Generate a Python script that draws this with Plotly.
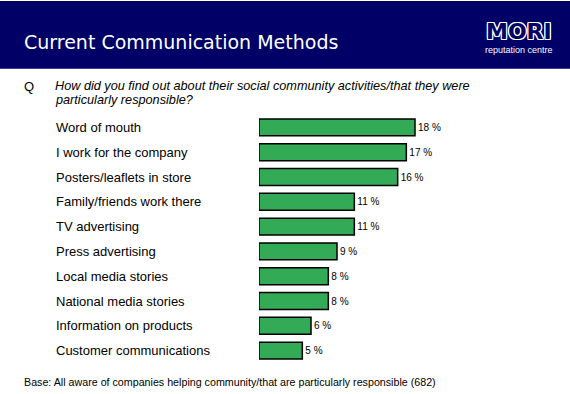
import plotly.graph_objects as go

categories = ["Word of mouth", "I work for the company", "Posters/leaflets in store",
              "Family/friends work there", "TV advertising", "Press advertising",
              "Local media stories", "National media stories", "Information on products",
              "Customer communications"]
values = [18, 17, 16, 11, 11, 9, 8, 8, 6, 5]
value_labels = [f"{v} %" for v in values]

W, H = 570, 394
X0, X1 = 259, 519
Y0, Y1 = 114.5, 363.5
XMAX = 30

def px(x):
    return (x - X0) / (X1 - X0)

def py(y):
    return (Y1 - y) / (Y1 - Y0)

FONT = "Arial, Liberation Sans"

fig = go.Figure()
fig.add_trace(go.Bar(
    x=values, y=categories, orientation="h",
    marker=dict(color="#33AA55", line=dict(color="black", width=1.5)),
    width=0.68,
    text=value_labels, textposition="outside", cliponaxis=False,
    textfont=dict(family=FONT, size=10, color="black"),
))

annotations = []
for c in categories:
    annotations.append(dict(x=px(54), xref="paper", y=c, yref="y", text=c,
                            showarrow=False, xanchor="left", yanchor="middle",
                            font=dict(family=FONT, size=13, color="black")))

outline = ("1px 0 0 white, -1px 0 0 white, 0 1px 0 white, 0 -1px 0 white, "
           "1px 1px 0 white, -1px -1px 0 white, 1px -1px 0 white, -1px 1px 0 white")

annotations += [
    dict(x=px(22), y=py(41), xref="paper", yref="paper", text="Current Communication Methods",
         showarrow=False, xanchor="left", yanchor="middle",
         font=dict(family="DejaVu Sans", size=19, color="white")),
    dict(x=px(519), y=py(31), xref="paper", yref="paper", text="<b>MORI</b>",
         showarrow=False, xanchor="center", yanchor="middle",
         font=dict(family="DejaVu Sans", size=22, color="#000066", shadow=outline)),
    dict(x=px(519), y=py(49), xref="paper", yref="paper", text="reputation centre",
         showarrow=False, xanchor="center", yanchor="middle",
         font=dict(family=FONT, size=9, color="white")),
    dict(x=px(22), y=py(85.5), xref="paper", yref="paper", text="Q",
         showarrow=False, xanchor="left", yanchor="middle",
         font=dict(family=FONT, size=13, color="black")),
    dict(x=px(54), y=py(85.5), xref="paper", yref="paper",
         text="<i>How did you find out about their social community activities/that they were</i>",
         showarrow=False, xanchor="left", yanchor="middle", align="left", borderpad=0,
         font=dict(family=FONT, size=12.7, color="black")),
    dict(x=px(54), y=py(99.5), xref="paper", yref="paper",
         text="<i>particularly responsible?</i>",
         showarrow=False, xanchor="left", yanchor="middle", align="left", borderpad=0,
         font=dict(family=FONT, size=12.7, color="black")),
    dict(x=px(22), y=py(383), xref="paper", yref="paper",
         text="Base: All aware of companies helping community/that are particularly responsible (682)",
         showarrow=False, xanchor="left", yanchor="middle",
         font=dict(family=FONT, size=10.7, color="black")),
]

shapes = [dict(type="rect", xref="paper", yref="paper", x0=px(0), x1=px(W), y0=py(0), y1=py(68),
               fillcolor="#000066", line=dict(width=0), layer="below")]

fig.update_layout(
    width=W, height=H,
    margin=dict(l=X0, r=W - X1, t=Y0, b=H - Y1, pad=0),
    paper_bgcolor="white", plot_bgcolor="white",
    showlegend=False,
    xaxis=dict(range=[0, XMAX], visible=False, fixedrange=True),
    yaxis=dict(visible=False, fixedrange=True),
    annotations=annotations, shapes=shapes,
)
fig.update_yaxes(autorange=False, range=[9.5, -0.5])
fig.write_html("out.html", config={"displayModeBar": False, "staticPlot": True},
               post_script="document.body.style.margin='0';document.body.style.overflow='hidden';")
